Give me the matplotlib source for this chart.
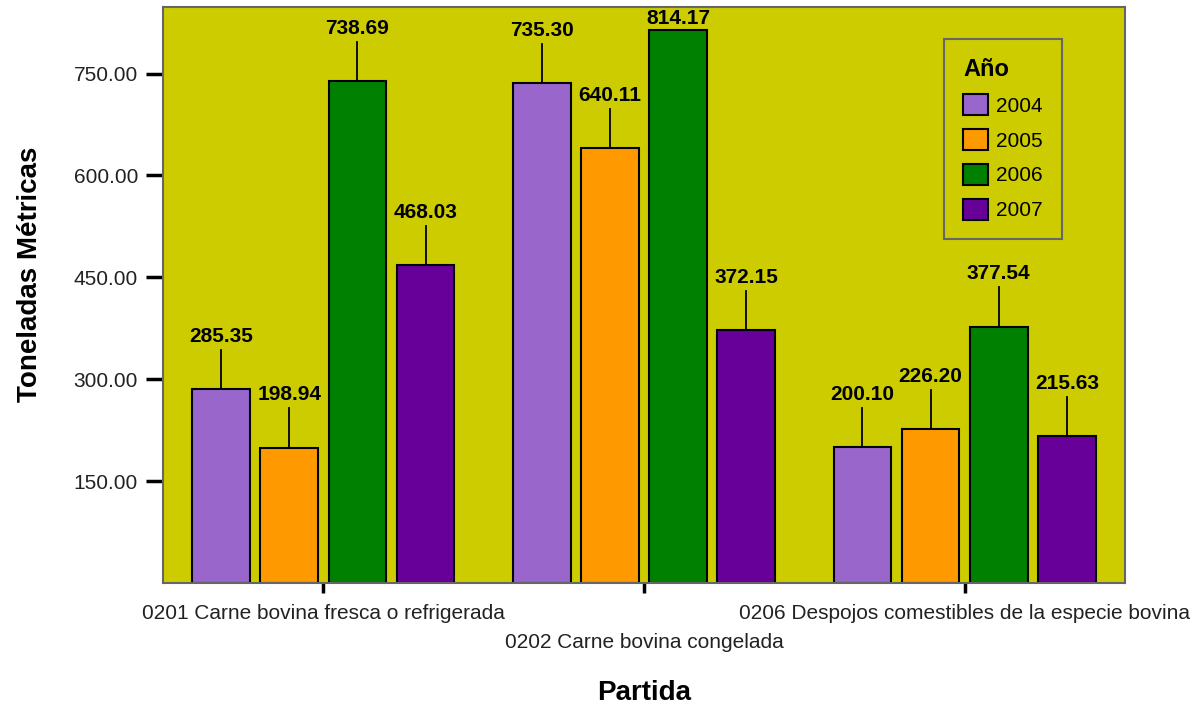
import numpy as np
import matplotlib.pyplot as plt

# Datos
partidas = ["0201 Carne bovina fresca o refrigerada",
            "0202 Carne bovina congelada",
            "0206 Despojos comestibles de la especie bovina"]
anios = ["2004", "2005", "2006", "2007"]
v2004 = [285.35, 735.30, 200.10]
v2005 = [198.94, 640.11, 226.20]
v2006 = [738.69, 814.17, 377.54]
v2007 = [468.03, 372.15, 215.63]
series = [v2004, v2005, v2006, v2007]
colores = ["#9966CC", "#FF9900", "#008000", "#660099"]
fondo = "#CCCC00"

plt.rcParams['font.family'] = ['Liberation Sans', 'DejaVu Sans']

fig = plt.figure(figsize=(12.03, 7.08), dpi=100)
ax = fig.add_axes([0.1355, 0.1766, 0.7997, 0.8136])
ax.set_facecolor(fondo)

x = np.arange(len(partidas))
paso = 0.2125
ancho = 0.18
ymax = 848
lead = 58

for i, (vals, col, an) in enumerate(zip(series, colores, anios)):
    pos = x + (i - 1.5) * paso
    ax.bar(pos, vals, width=ancho, color=col, edgecolor="black",
           linewidth=1.5, label=an, zorder=2)
    for px, v in zip(pos, vals):
        ly = v + lead + 6
        if ly + 20 > ymax:
            ly = v + 3  # no cabe: etiqueta pegada a la barra
        else:
            ax.plot([px, px], [v, v + lead], color="black", lw=1.3, zorder=3)
        ax.text(px, ly, f"{v:.2f}", ha="center", va="bottom",
                fontsize=15, fontweight="bold", clip_on=True, zorder=4)

ax.set_xlim(-0.5, 2.5)
ax.set_ylim(0, ymax)
ax.set_yticks([150, 300, 450, 600, 750])
ax.set_yticklabels([f"{t:.2f}" for t in [150, 300, 450, 600, 750]],
                   fontsize=15, color="#222222")
ax.set_xticks(x)
ax.set_xticklabels(partidas, fontsize=15, color="#222222")
ax.tick_params(axis="y", length=12, width=2.5, pad=6)
ax.tick_params(axis="x", length=7, width=2.5, pad=8)
ax.xaxis.get_major_ticks()[1].set_pad(29)

for s in ax.spines.values():
    s.set_color("#666666")
    s.set_linewidth(1.5)

ax.set_ylabel("Toneladas Métricas", fontsize=20, fontweight="bold")
ax.yaxis.set_label_coords(-0.125, 0.535)
ax.set_xlabel("Partida", fontsize=20, fontweight="bold")
ax.xaxis.set_label_coords(0.5, -0.168)

leg = ax.legend(title="Año", loc="upper left", bbox_to_anchor=(0.812, 0.944),
                borderaxespad=0, fontsize=15, fancybox=False, framealpha=1,
                facecolor=fondo, edgecolor="#666666", handlelength=1.2,
                handleheight=1.2, labelspacing=0.63, handletextpad=0.4,
                borderpad=0.9)
leg.get_title().set_fontweight("bold")
leg.get_title().set_fontsize(17)
leg._legend_box.align = "left"
leg.get_frame().set_linewidth(1.5)

fig.savefig("out.png", dpi=100)
